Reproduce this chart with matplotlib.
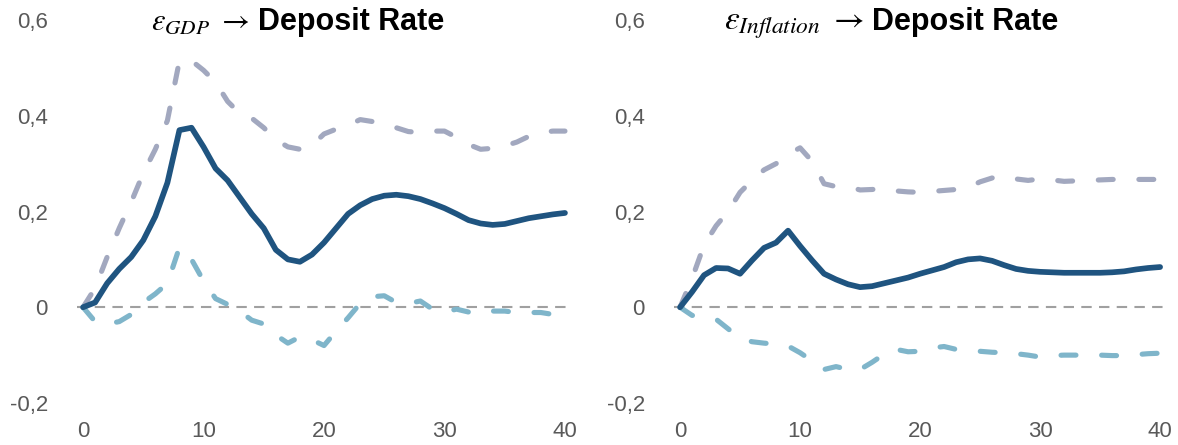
import matplotlib

matplotlib.use("Agg")
import matplotlib.pyplot as plt
from matplotlib.ticker import FixedLocator, FuncFormatter

plt.rcParams["font.family"] = ["Liberation Sans", "DejaVu Sans"]
plt.rcParams["mathtext.fontset"] = "stix"

horizon = list(range(41))

# GDP shock -> deposit rate
gdp_irf = [0.0, 0.01, 0.05, 0.08, 0.105, 0.14, 0.19, 0.26, 0.37, 0.375,
           0.335, 0.29, 0.265, 0.23, 0.195, 0.165, 0.12, 0.1, 0.095, 0.11,
           0.135, 0.165, 0.195, 0.213, 0.226, 0.233, 0.235, 0.232, 0.226, 0.217,
           0.207, 0.195, 0.182, 0.175, 0.172, 0.174, 0.18, 0.186, 0.19, 0.194,
           0.197]
gdp_upper = [0.0, 0.04, 0.105, 0.165, 0.22, 0.28, 0.33, 0.39, 0.515, 0.515,
             0.495, 0.47, 0.43, 0.405, 0.395, 0.375, 0.35, 0.335, 0.33, 0.338,
             0.362, 0.372, 0.38, 0.392, 0.388, 0.382, 0.375, 0.367, 0.365, 0.368,
             0.368, 0.355, 0.34, 0.33, 0.332, 0.337, 0.345, 0.357, 0.365, 0.368,
             0.368]
gdp_lower = [0.0, -0.03, -0.035, -0.03, -0.015, 0.01, 0.028, 0.05, 0.125, 0.1,
             0.055, 0.018, 0.006, -0.008, -0.027, -0.035, -0.058, -0.075, -0.062, -0.068,
             -0.08, -0.05, -0.022, 0.008, 0.022, 0.024, 0.01, 0.008, 0.013, -0.004,
             -0.01, -0.004, -0.01, -0.014, -0.008, -0.008, -0.011, -0.011, -0.011, -0.015,
             -0.019]

# inflation shock -> deposit rate
inf_irf = [0.0, 0.032, 0.067, 0.082, 0.081, 0.07, 0.098, 0.124, 0.135, 0.16,
           0.128, 0.098, 0.07, 0.058, 0.048, 0.042, 0.044, 0.05, 0.056, 0.062,
           0.07, 0.077, 0.084, 0.094, 0.1, 0.102, 0.097, 0.088, 0.08, 0.076,
           0.074, 0.073, 0.072, 0.072, 0.072, 0.072, 0.073, 0.075, 0.079, 0.082,
           0.084]
inf_upper = [0.0, 0.06, 0.13, 0.17, 0.2, 0.24, 0.265, 0.287, 0.3, 0.32,
             0.333, 0.305, 0.258, 0.252, 0.252, 0.245, 0.246, 0.248, 0.243, 0.241,
             0.24, 0.242, 0.244, 0.246, 0.25, 0.262, 0.27, 0.274, 0.268, 0.265,
             0.268, 0.266, 0.263, 0.264, 0.265, 0.266, 0.267, 0.267, 0.267, 0.267,
             0.267]
inf_lower = [0.0, -0.017, -0.02, -0.025, -0.045, -0.065, -0.072, -0.075, -0.077, -0.081,
             -0.095, -0.112, -0.13, -0.124, -0.13, -0.13, -0.115, -0.098, -0.088, -0.093,
             -0.092, -0.085, -0.082, -0.088, -0.09, -0.092, -0.094, -0.095, -0.097, -0.1,
             -0.104, -0.101, -0.1, -0.1, -0.1, -0.1, -0.101, -0.101, -0.099, -0.097,
             -0.096]

y_ticks = [-0.2, 0.0, 0.2, 0.4, 0.6]
x_ticks = [0, 10, 20, 30, 40]

C_IRF = "#1f5480"
C_UP = "#a2a8bf"
C_LO = "#7fb5ca"
C_TICK = "#595959"
BAND_DASH = (0, (2.9, 5.0))


def comma_fmt(v, _pos):
    if abs(v) < 1e-9:
        return "0"
    return f"{v:.1f}".replace(".", ",")


def panel(ax, irf, upper, lower, shock, math_fs, split):
    ax.axhline(0, color="#a0a0a0", lw=1.5, ls=(0, (5, 3.5)), zorder=1)
    ax.plot(horizon, upper, color=C_UP, lw=3.7, ls=BAND_DASH,
            dash_capstyle="round", dash_joinstyle="round", zorder=2)
    ax.plot(horizon, lower, color=C_LO, lw=3.7, ls=BAND_DASH,
            dash_capstyle="round", dash_joinstyle="round", zorder=2)
    ax.plot(horizon, irf, color=C_IRF, lw=4.1, solid_capstyle="round",
            solid_joinstyle="round", zorder=3)
    ax.set_xlim(-0.5, 40.5)
    ax.set_ylim(-0.2, 0.6)
    ax.yaxis.set_major_locator(FixedLocator(y_ticks))
    ax.xaxis.set_major_locator(FixedLocator(x_ticks))
    ax.yaxis.set_major_formatter(FuncFormatter(comma_fmt))
    ax.tick_params(axis="both", length=0, labelsize=16, colors=C_TICK)
    ax.tick_params(axis="y", pad=21)
    ax.tick_params(axis="x", pad=13)
    for s in ax.spines.values():
        s.set_visible(False)
    # title: shock symbol + arrow, then the response variable in bold
    ax.text(split, 0.974, rf"$\varepsilon_{{{shock}}}\ \rightarrow$",
            transform=ax.transAxes, ha="right", va="baseline",
            fontsize=math_fs, color="black")
    ax.text(split + 0.017, 0.974, "Deposit Rate", transform=ax.transAxes,
            ha="left", va="baseline", fontsize=22, fontweight="bold",
            color="black")


fig = plt.figure(figsize=(11.78, 4.45), dpi=100)
ax1 = fig.add_axes([0.0654, 0.0944, 0.4193, 0.8606])
ax2 = fig.add_axes([0.5722, 0.0944, 0.4177, 0.8606])

panel(ax1, gdp_irf, gdp_upper, gdp_lower, "GDP", 22, 0.35)
panel(ax2, inf_irf, inf_upper, inf_lower, "Inflation", 24, 0.386)

fig.savefig("out.png", dpi=100)
